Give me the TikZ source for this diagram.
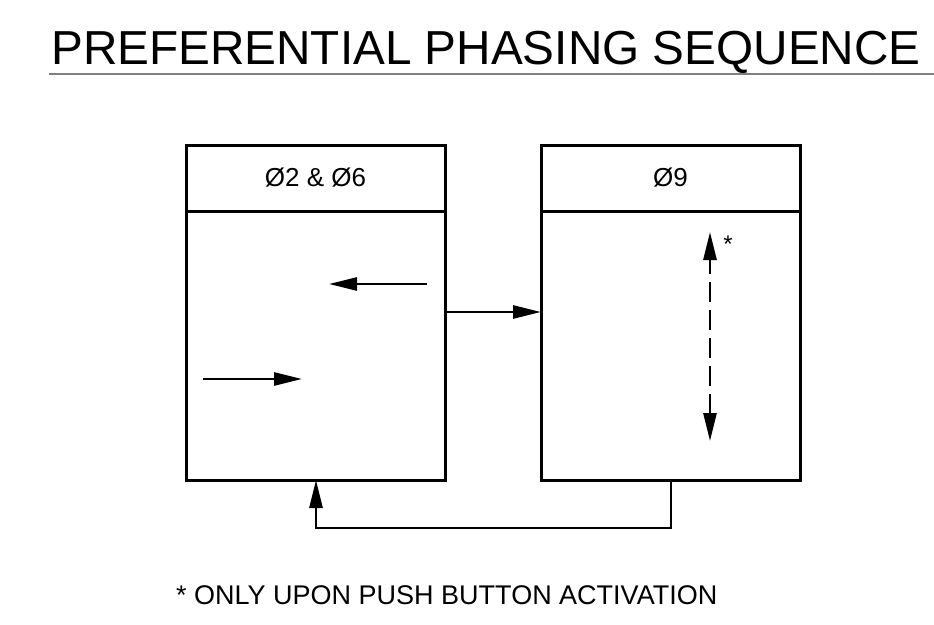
\documentclass[tikz,border=0pt]{standalone}
\usepackage{fontspec}
\setmainfont{Liberation Sans}
\usetikzlibrary{arrows.meta,positioning}
\tikzset{
  every picture/.style={line join=miter, line cap=butt, >={Triangle[length=28pt,width=13pt]}},
  phasebox/.style={draw, line width=3pt, inner sep=0pt, outer sep=0pt, minimum width=259pt},
  headbox/.style={phasebox, minimum height=66pt, font=\fontsize{26}{28}\selectfont},
  bodybox/.style={phasebox, minimum height=269pt},
  flow/.style={line width=2.7pt, ->},
  dualflow/.style={line width=2.7pt, <->, dash pattern=on 20pt off 8pt},
}
\begin{document}
\begin{tikzpicture}[x=1pt,y=-1pt]
\useasboundingbox (0,0) rectangle (934,624);
\node[anchor=base west, inner sep=0pt, font=\fontsize{47.7}{50}\selectfont] (title) at (51,64) {PREFERENTIAL PHASING SEQUENCE};
\draw[line width=2.5pt, color=black!50] (49,74) coordinate (ulA) -- (934,74) coordinate (ulB);
\node[headbox, anchor=north west] (headA) at (186,145) {Ø2 \& Ø6};
\node[bodybox, below=0pt of headA] (bodyA) {};
\node[headbox, anchor=north west] (headB) at (541,145) {Ø9};
\node[bodybox, below=0pt of headB] (bodyB) {};
\coordinate (leftS) at (427,284);
\coordinate (leftE) at (329,284);
\coordinate (rightS) at (203,379);
\coordinate (rightE) at (302,379);
\draw[flow] (leftS) -- (leftE);
\draw[flow] (rightS) -- (rightE);
\coordinate (walkT) at (710,232);
\coordinate (walkB) at (710,441);
\draw[dualflow] (walkB) -- (walkT);
\node[font=\fontsize{24}{26}\selectfont, inner sep=0pt] (star) at (728,244) {*};
\draw[flow] (bodyA.east |- 0,312) -- (bodyB.west |- 0,312);
\draw[flow] (bodyB.south -| 671,0) |- (316,528) -- (bodyA.south -| 316,0);
\node[anchor=base west, inner sep=0pt, font=\fontsize{27}{29}\selectfont] (note) at (176,604) {* ONLY UPON PUSH BUTTON ACTIVATION};
\end{tikzpicture}
\end{document}
